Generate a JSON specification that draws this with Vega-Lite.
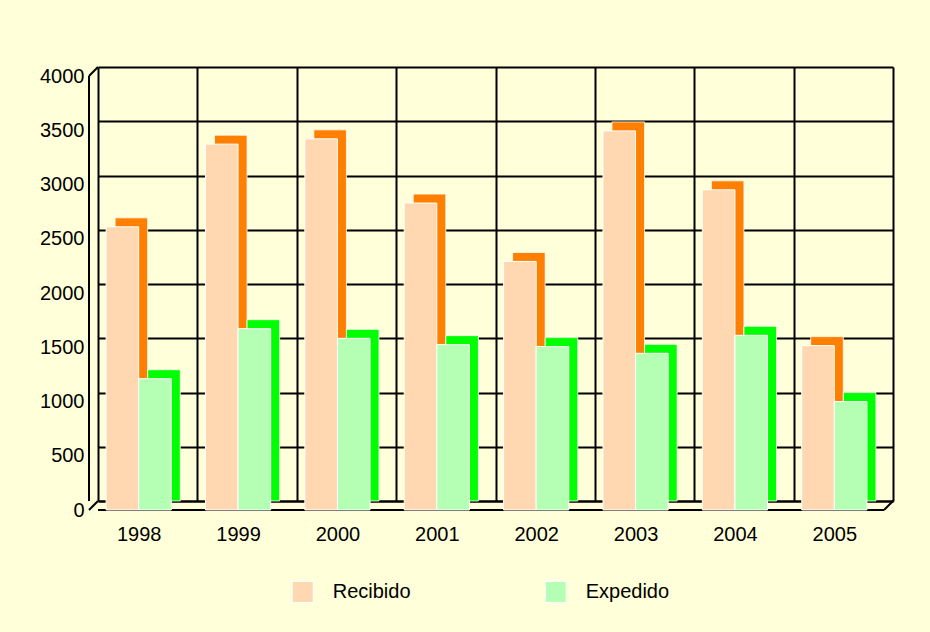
{
  "$schema": "https://vega.github.io/schema/vega-lite/v6.json",
  "autosize": {"type": "none"},
  "width": 795,
  "height": 434,
  "padding": {"left": 98, "top": 67, "right": 37, "bottom": 131},
  "background": "#FFFFD9",
  "config": {"view": {"stroke": null}, "font": "Liberation Sans"},
  "datasets": {
    "bars": [
      {"year": "1998", "series": "Recibido", "value": 2610},
      {"year": "1998", "series": "Expedido", "value": 1210},
      {"year": "1999", "series": "Recibido", "value": 3372},
      {"year": "1999", "series": "Expedido", "value": 1671},
      {"year": "2000", "series": "Recibido", "value": 3421},
      {"year": "2000", "series": "Expedido", "value": 1582},
      {"year": "2001", "series": "Recibido", "value": 2829},
      {"year": "2001", "series": "Expedido", "value": 1524},
      {"year": "2002", "series": "Recibido", "value": 2291},
      {"year": "2002", "series": "Expedido", "value": 1506},
      {"year": "2003", "series": "Recibido", "value": 3494},
      {"year": "2003", "series": "Expedido", "value": 1444},
      {"year": "2004", "series": "Recibido", "value": 2951},
      {"year": "2004", "series": "Expedido", "value": 1610},
      {"year": "2005", "series": "Recibido", "value": 1515},
      {"year": "2005", "series": "Expedido", "value": 999}
    ],
    "frame": [{"first": "1998", "last": "2005", "low": 0, "high": 4000}]
  },
  "layer": [
    {
      "data": {"name": "bars"},
      "transform": [{"filter": "datum.series === 'Recibido'"}],
      "mark": {"type": "bar", "stroke": "white", "strokeWidth": 0.8, "fill": "#FF8000", "width": {"band": 0.328}, "xOffset": -16.3, "x2Offset": -16.3},
      "encoding": {
        "x": {
          "field": "year", "type": "nominal",
          "scale": {"paddingInner": 0, "paddingOuter": 0},
          "axis": {
            "title": null, "grid": true, "gridColor": "black", "gridWidth": 2, "gridOpacity": 1,
            "tickBand": "extent", "ticks": false, "domain": true, "domainColor": "black", "domainWidth": 2,
            "labelAngle": 0, "labelFontSize": 20, "labelColor": "black", "labelFont": "Liberation Sans",
            "labelPadding": 23, "labelOffset": -9
          }
        },
        "y": {
          "field": "value", "type": "quantitative",
          "scale": {"domain": [0, 4000], "nice": false},
          "axis": {
            "title": null, "values": [0, 500, 1000, 1500, 2000, 2500, 3000, 3500, 4000], "format": "d",
            "grid": true, "gridColor": "black", "gridWidth": 2, "gridOpacity": 1,
            "ticks": false, "domain": false, "offset": 9,
            "labelFontSize": 20, "labelColor": "black", "labelFont": "Liberation Sans",
            "labelPadding": 5, "labelOffset": 9
          }
        }
      }
    },
    {
      "data": {"name": "bars"},
      "transform": [{"filter": "datum.series === 'Expedido'"}],
      "mark": {"type": "bar", "stroke": "white", "strokeWidth": 0.8, "fill": "#00FF00", "width": {"band": 0.328}, "xOffset": 16.3, "x2Offset": 16.3},
      "encoding": {
        "x": {"field": "year", "type": "nominal"},
        "y": {"field": "value", "type": "quantitative"}
      }
    },
    {
      "data": {"name": "frame"},
      "mark": {"type": "rule", "color": "black", "strokeWidth": 2, "xOffset": -9, "x2Offset": -9, "yOffset": 9, "y2Offset": 9},
      "encoding": {"y": {"field": "low", "type": "quantitative"}}
    },
    {
      "data": {"name": "frame"},
      "mark": {"type": "rule", "color": "black", "strokeWidth": 2, "xOffset": -9, "x2Offset": -9, "yOffset": 9, "y2Offset": 9},
      "encoding": {"x": {"field": "first", "type": "nominal", "bandPosition": 0}}
    },
    {
      "data": {"name": "frame"},
      "mark": {"type": "rule", "color": "black", "strokeWidth": 2, "xOffset": -9, "yOffset": 9, "x2Offset": -49.7},
      "encoding": {
        "x": {"field": "first", "type": "nominal", "bandPosition": 0},
        "x2": {"field": "first"},
        "y": {"field": "high", "type": "quantitative"},
        "y2": {"field": "high"}
      }
    },
    {
      "data": {"name": "frame"},
      "mark": {"type": "rule", "color": "black", "strokeWidth": 2, "xOffset": -9, "yOffset": 9, "x2Offset": -49.7},
      "encoding": {
        "x": {"field": "first", "type": "nominal", "bandPosition": 0},
        "x2": {"field": "first"},
        "y": {"field": "low", "type": "quantitative"},
        "y2": {"field": "low"}
      }
    },
    {
      "data": {"name": "frame"},
      "mark": {"type": "rule", "color": "black", "strokeWidth": 2, "xOffset": -9, "yOffset": 9, "x2Offset": 49.7},
      "encoding": {
        "x": {"field": "last", "type": "nominal", "bandPosition": 1},
        "x2": {"field": "last"},
        "y": {"field": "low", "type": "quantitative"},
        "y2": {"field": "low"}
      }
    },
    {
      "data": {"name": "bars"},
      "transform": [{"filter": "datum.series === 'Recibido'"}],
      "mark": {"type": "bar", "stroke": "white", "strokeWidth": 1, "width": {"band": 0.328}, "xOffset": -25.3, "x2Offset": -25.3, "yOffset": 9, "y2Offset": 9},
      "encoding": {
        "x": {"field": "year", "type": "nominal"},
        "y": {"field": "value", "type": "quantitative"},
        "color": {
          "field": "series", "type": "nominal", "sort": ["Recibido", "Expedido"],
          "scale": {"domain": ["Recibido", "Expedido"], "range": ["#FFD7B0", "#B4FFB4"]},
          "legend": {
            "orient": "none", "legendX": 193.7, "legendY": 513.7, "direction": "horizontal", "title": null,
            "symbolType": "square", "symbolSize": 441, "symbolStrokeColor": "white", "symbolStrokeWidth": 1, "symbolOpacity": 1,
            "labelFontSize": 20, "labelFont": "Liberation Sans", "labelColor": "black", "labelOffset": 19,
            "columnPadding": 132, "padding": 0
          }
        }
      }
    },
    {
      "data": {"name": "bars"},
      "transform": [{"filter": "datum.series === 'Expedido'"}],
      "mark": {"type": "bar", "stroke": "white", "strokeWidth": 1, "width": {"band": 0.328}, "xOffset": 7.3, "x2Offset": 7.3, "yOffset": 9, "y2Offset": 9},
      "encoding": {
        "x": {"field": "year", "type": "nominal"},
        "y": {"field": "value", "type": "quantitative"},
        "color": {"field": "series", "type": "nominal", "sort": ["Recibido", "Expedido"]}
      }
    }
  ]
}
